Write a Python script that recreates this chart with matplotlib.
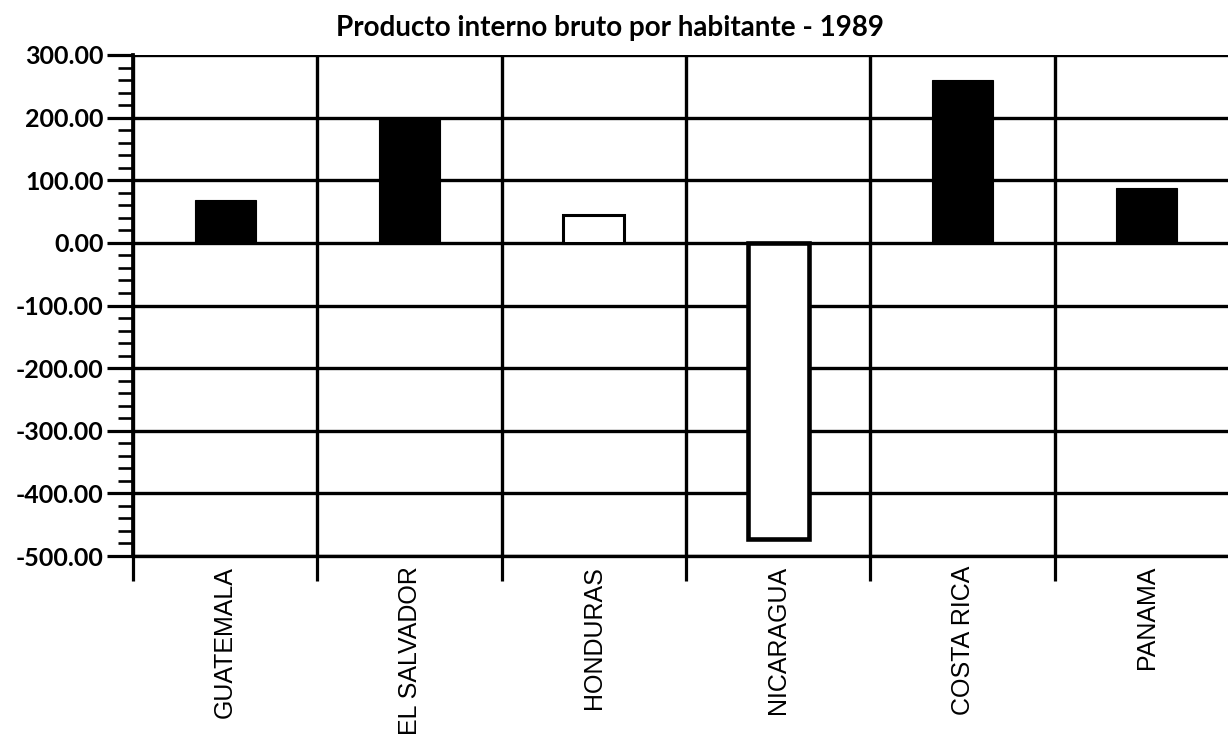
import numpy as np
import matplotlib.pyplot as plt
from matplotlib.ticker import MultipleLocator, FixedLocator

# values
countries = ['GUATEMALA', 'EL SALVADOR', 'HONDURAS', 'NICARAGUA', 'COSTA RICA', 'PANAMA']
pib_1989 = [68, 200, 45, -473, 260, 88]
fill_colors = ['black', 'black', 'white', 'white', 'black', 'black']
edge_widths = [0.8, 0.8, 2.2, 3.3, 0.8, 0.8]
y_ticks = [300, 200, 100, 0, -100, -200, -300, -400, -500]

plt.rcParams['font.family'] = ['Lato', 'DejaVu Sans']

fig = plt.figure(figsize=(12.28, 7.42), dpi=100)
ax = fig.add_axes([133 / 1228, 1 - 556 / 742, 1 - 133 / 1228, (556 - 55) / 742])

x = np.arange(len(countries))
ax.bar(x, pib_1989, width=0.33, color=fill_colors, edgecolor='black',
       linewidth=edge_widths, zorder=3)

ax.set_ylim(-500, 300)
# the last column is cut off by the right edge of the picture
ax.set_xlim(-0.5, len(countries) - 0.5 - 11 / 184)

ax.set_yticks(y_ticks)
ax.set_yticklabels([f'{v:.2f}' for v in y_ticks], fontsize=18, fontweight='bold')
ax.yaxis.set_minor_locator(MultipleLocator(20))
ax.tick_params(axis='y', which='major', length=19, width=2.3, direction='out', pad=2)
ax.tick_params(axis='y', which='minor', length=11, width=1.9, direction='out')

# column separators on major x ticks, country names on minor ones
bounds = np.arange(len(countries) + 1) - 0.5
ax.xaxis.set_major_locator(FixedLocator(bounds))
ax.xaxis.set_minor_locator(FixedLocator(x))
ax.set_xticklabels([''] * len(bounds))
ax.set_xticklabels(countries, minor=True, rotation=90, fontsize=18, va='top',
                   family=['Liberation Sans', 'DejaVu Sans'])
ax.tick_params(axis='x', which='major', length=18, width=2.3, direction='out')
ax.tick_params(axis='x', which='minor', length=0, pad=7)

ax.grid(True, which='major', color='black', linewidth=2.4, zorder=1)
ax.set_axisbelow(True)

for side in ['top', 'right']:
    ax.spines[side].set_visible(False)
ax.spines['left'].set_linewidth(2.7)
ax.spines['bottom'].set_linewidth(2.4)

fig.text(610 / 1228, 1 - 28 / 742, 'Producto interno bruto por habitante - 1989',
         ha='center', va='center', fontsize=20, fontweight='bold')

fig.savefig('out.png', dpi=100)
